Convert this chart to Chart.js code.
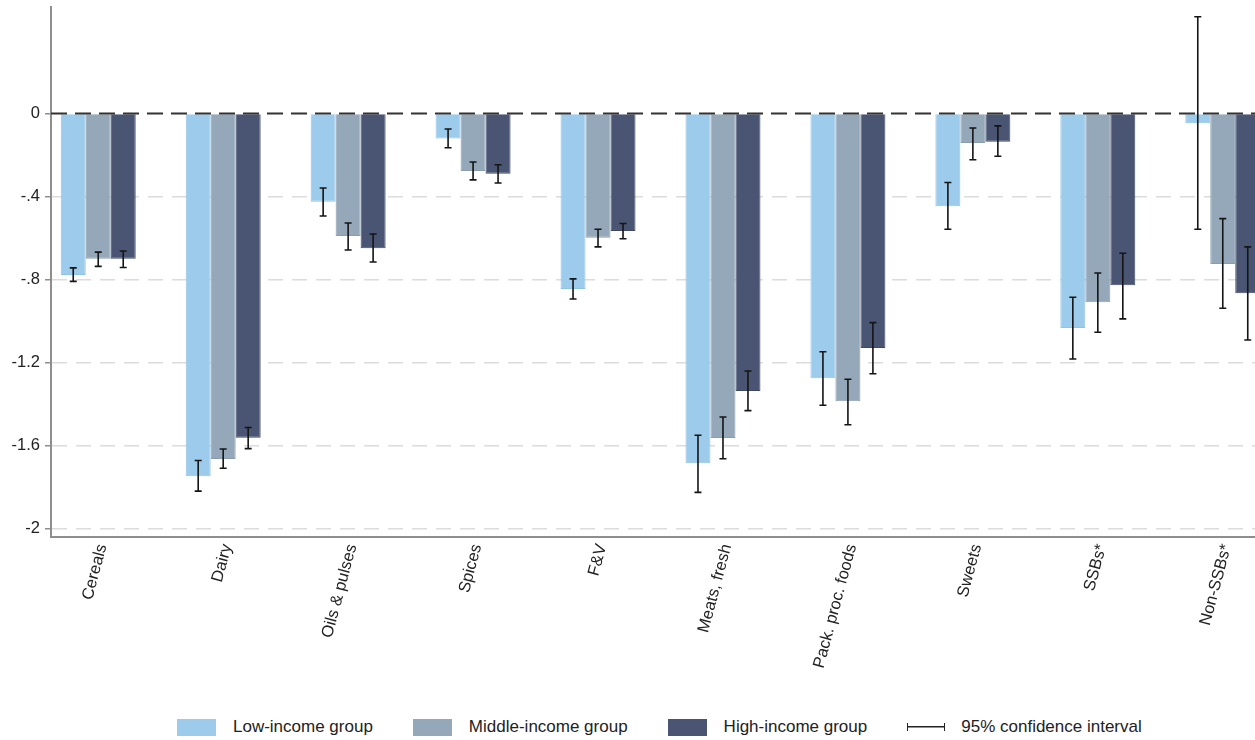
<!DOCTYPE html>
<html>
<head>
<meta charset="utf-8">
<title>Change by food group and income group</title>
<script src="https://cdn.jsdelivr.net/npm/chart.js@4/dist/chart.umd.min.js"></script>
<style>
  html, body { margin: 0; padding: 0; background: #ffffff; overflow: hidden; }
  #wrap { position: relative; width: 1255px; height: 740px; overflow: hidden; }
  #chart { position: absolute; left: 0; top: 0; }
  #legend {
    position: absolute; left: 177px; top: 716px; height: 22px;
    display: flex; align-items: center;
    font-family: "Liberation Sans", Arial, sans-serif; font-size: 17px; color: #222;
  }
  .item { display: flex; align-items: center; margin-right: 40px; white-space: nowrap; }
  .swatch { width: 39px; height: 17px; margin-right: 17px; }
  .ciline {
    width: 36px; height: 8px; margin-right: 16px;
    border-left: 1.5px solid #222; border-right: 1.5px solid #222;
    background: linear-gradient(#222, #222) center / 100% 1.5px no-repeat;
  }
</style>
</head>
<body>
<div id="wrap">
  <canvas id="chart" width="1282" height="690"></canvas>
  <div id="legend"></div>
</div>
<script>
// Food groups on the x axis
const categories = ['Cereals', 'Dairy', 'Oils & pulses', 'Spices', 'F&V',
  'Meats, fresh', 'Pack. proc. foods', 'Sweets', 'SSBs*', 'Non-SSBs*'];

// Point estimates per income group
const lowIncome    = [-0.778, -1.748, -0.426, -0.121, -0.846, -1.686, -1.276, -0.447, -1.034, -0.047];
const middleIncome = [-0.700, -1.665, -0.590, -0.277, -0.599, -1.564, -1.387, -0.142, -0.910, -0.725];
const highIncome   = [-0.700, -1.563, -0.650, -0.290, -0.566, -1.337, -1.130, -0.136, -0.828, -0.866];

// 95% confidence interval bounds
const lowCiLower    = [-0.809, -1.820, -0.494, -0.165, -0.894, -1.826, -1.406, -0.558, -1.183, -0.558];
const lowCiUpper    = [-0.744, -1.672, -0.359, -0.075, -0.797, -1.551, -1.148, -0.333, -0.886,  0.466];
const middleCiLower = [-0.737, -1.710, -0.658, -0.320, -0.643, -1.664, -1.500, -0.223, -1.054, -0.939];
const middleCiUpper = [-0.668, -1.617, -0.528, -0.234, -0.558, -1.463, -1.281, -0.070, -0.769, -0.507];
const highCiLower   = [-0.742, -1.615, -0.716, -0.335, -0.604, -1.432, -1.254, -0.206, -0.990, -1.092];
const highCiUpper   = [-0.663, -1.513, -0.581, -0.247, -0.530, -1.241, -1.008, -0.060, -0.674, -0.643];

// Y axis ticks
const yTickValues = [0, -0.4, -0.8, -1.2, -1.6, -2];
const yTickLabels = ['0', '-.4', '-.8', '-1.2', '-1.6', '-2'];

const seriesNames = ['Low-income group', 'Middle-income group', 'High-income group'];
const ciLabel = '95% confidence interval';

const FONT = '"Liberation Sans", Arial, sans-serif';
Chart.defaults.font.family = FONT;
Chart.defaults.font.size = 16.5;
Chart.defaults.color = '#222';

const AXIS_GRAY = '#8e8e8e';

function toPoints(values) {
  return values.map((v, i) => ({ x: i, y: v }));
}

// Zero reference line and CI whiskers, drawn on top of the bars
const overlayPlugin = {
  id: 'overlay',
  afterDatasetsDraw(chart) {
    const { ctx, chartArea, scales } = chart;
    const y = scales.y;
    const y0 = y.getPixelForValue(0);
    ctx.save();
    ctx.beginPath();
    ctx.rect(chartArea.left, chartArea.top, chartArea.right - chartArea.left, chartArea.bottom - chartArea.top);
    ctx.clip();
    ctx.setLineDash([16, 8]);
    ctx.strokeStyle = '#333';
    ctx.lineWidth = 2;
    ctx.beginPath();
    ctx.moveTo(chartArea.left, y0);
    ctx.lineTo(chartArea.right, y0);
    ctx.stroke();
    ctx.setLineDash([]);

    ctx.strokeStyle = '#151515';
    ctx.lineWidth = 1.6;
    const cap = 3.5;
    chart.data.datasets.forEach((ds, di) => {
      const meta = chart.getDatasetMeta(di);
      meta.data.forEach((bar, j) => {
        const x = bar.x;
        const yl = y.getPixelForValue(ds.ciLower[j]);
        const yu = y.getPixelForValue(ds.ciUpper[j]);
        ctx.beginPath();
        ctx.moveTo(x, yl); ctx.lineTo(x, yu);
        ctx.moveTo(x - cap, yl); ctx.lineTo(x + cap, yl);
        ctx.moveTo(x - cap, yu); ctx.lineTo(x + cap, yu);
        ctx.stroke();
      });
    });
    ctx.restore();
  }
};

const colors = ['#9ccbeb', '#95a8b9', '#4a5573'];
const edges  = ['#93c3e4', '#8a9cae', '#3f4966'];

const chart = new Chart(document.getElementById('chart'), {
  type: 'bar',
  data: {
    datasets: [
      { label: seriesNames[0], data: toPoints(lowIncome), ciLower: lowCiLower, ciUpper: lowCiUpper },
      { label: seriesNames[1], data: toPoints(middleIncome), ciLower: middleCiLower, ciUpper: middleCiUpper },
      { label: seriesNames[2], data: toPoints(highIncome), ciLower: highCiLower, ciUpper: highCiUpper }
    ].map((d, i) => Object.assign(d, {
      backgroundColor: colors[i],
      borderColor: edges[i],
      borderWidth: 1,
      categoryPercentage: 0.6,
      barPercentage: 1.0
    }))
  },
  options: {
    responsive: false,
    animation: false,
    layout: { padding: { top: 7, right: 12, left: 0, bottom: 0 } },
    plugins: { legend: { display: false }, tooltip: { enabled: false } },
    scales: {
      x: {
        type: 'linear',
        min: -0.378,
        max: 9.378,
        offset: false,
        grid: { display: false, drawTicks: false },
        border: { display: true, color: AXIS_GRAY, width: 2 },
        afterBuildTicks: (s) => { s.ticks = categories.map((c, i) => ({ value: i })); },
        afterFit: (s) => { s.height = 690 - 537; s.paddingLeft = 0; s.paddingRight = 0; },
        ticks: {
          autoSkip: false,
          minRotation: 75,
          maxRotation: 75,
          padding: 5,
          labelOffset: 4,
          color: '#222',
          callback: (v) => categories[v]
        }
      },
      y: {
        min: -2.041,
        max: 0.513,
        afterBuildTicks: (s) => { s.ticks = yTickValues.map(v => ({ value: v })); },
        afterFit: (s) => { s.width = 51; s.paddingTop = 0; s.paddingBottom = 0; },
        grid: {
          color: (c) => (c.tick && c.tick.value === 0) ? 'rgba(0,0,0,0)' : '#dcdcdc',
          lineWidth: 1.5,
          drawTicks: true,
          tickLength: 6,
          tickColor: AXIS_GRAY,
          tickWidth: 1.5
        },
        border: { display: true, color: AXIS_GRAY, width: 2, dash: [15, 9] },
        ticks: {
          padding: 5,
          color: '#222',
          callback: (v) => yTickLabels[yTickValues.indexOf(v)]
        }
      }
    }
  },
  plugins: [overlayPlugin]
});

// Legend built from the chart's datasets
(function buildLegend() {
  const el = document.getElementById('legend');
  chart.data.datasets.forEach((ds) => {
    const item = document.createElement('div');
    item.className = 'item';
    const sw = document.createElement('div');
    sw.className = 'swatch';
    sw.style.background = ds.backgroundColor;
    const tx = document.createElement('span');
    tx.textContent = ds.label;
    item.appendChild(sw); item.appendChild(tx);
    el.appendChild(item);
  });
  const ci = document.createElement('div');
  ci.className = 'item';
  const ln = document.createElement('div');
  ln.className = 'ciline';
  const tx = document.createElement('span');
  tx.textContent = ciLabel;
  ci.appendChild(ln); ci.appendChild(tx);
  el.appendChild(ci);
})();
</script>
</body>
</html>
